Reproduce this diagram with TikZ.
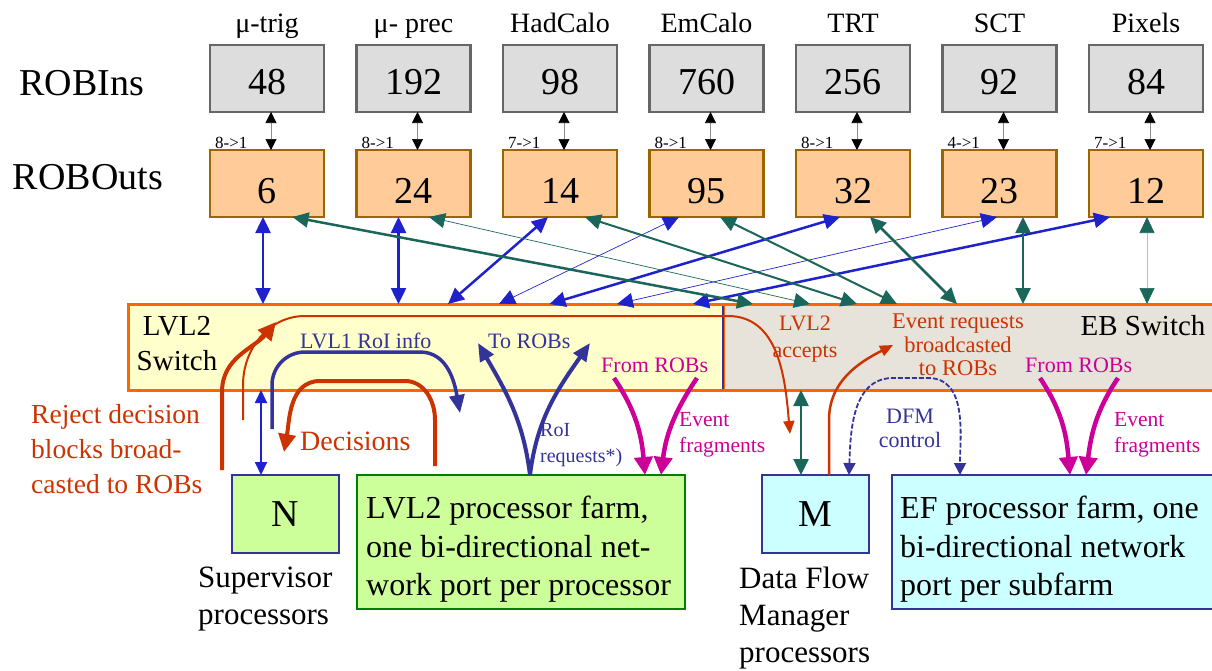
\documentclass[tikz,border=0pt]{standalone}
\usepackage{fontspec}
\setmainfont{Liberation Serif}
\usepackage{tikz}
\usetikzlibrary{arrows.meta,positioning}
\definecolor{robingray}{HTML}{DDDDDD}
\definecolor{robinedge}{HTML}{666666}
\definecolor{robfill}{HTML}{FFCC99}
\definecolor{robedge}{HTML}{996600}
\definecolor{swedge}{HTML}{FF6600}
\definecolor{lvlfill}{HTML}{FFFFCC}
\definecolor{ebfill}{HTML}{E7E3DA}
\definecolor{netblue}{HTML}{1F22CC}
\definecolor{ebgreen}{HTML}{1A665A}
\definecolor{ctlblue}{HTML}{333399}
\definecolor{decred}{HTML}{CC3300}
\definecolor{fragpink}{HTML}{CC0099}
\definecolor{farmgreen}{HTML}{CCFF99}
\definecolor{farmcyan}{HTML}{CCFFFF}
\definecolor{farmedge}{HTML}{008000}

\begin{document}
\begin{tikzpicture}[
        x=1pt, y=1pt,
        robin/.style={rectangle, draw=robinedge, fill=robingray, line width=2.5pt, outer sep=0pt, inner sep=0pt, minimum width=114pt, minimum height=67pt, text height=32pt, text depth=0pt, font=\fontsize{38}{40}\selectfont},
        robout/.style={robin, draw=robedge, fill=robfill, text height=40pt},
        det/.style={inner sep=0pt, font=\fontsize{28}{30}\selectfont},
        rowlab/.style={inner sep=0pt, font=\fontsize{38}{40}\selectfont},
        ratio/.style={inner sep=0pt, anchor=base west, font=\fontsize{17}{18}\selectfont},
        link/.style={draw=black!45, line width=0.6pt, >={Triangle[length=11pt,width=11pt,color=black]}, <->},
        netlink/.style={draw=netblue, line width=2.5pt, >={Triangle[length=16pt,width=15pt]}, <->},
        netthin/.style={netlink, line width=0.7pt},
        eblink/.style={draw=ebgreen, line width=2.5pt, >={Triangle[length=16pt,width=15pt]}, <->},
        ebthin/.style={eblink, line width=0.7pt},
        swbox/.style={rectangle, draw=swedge, fill=lvlfill, line width=3pt, outer sep=0pt, inner sep=0pt, minimum height=86pt},
        swlab/.style={inner sep=0pt, align=center, font=\fontsize{29}{35}\selectfont},
        proc/.style={rectangle, draw=ctlblue, line width=2.5pt, outer sep=0pt, minimum width=107pt, minimum height=78pt, font=\fontsize{38}{40}\selectfont},
        farm/.style={rectangle, line width=2.5pt, outer sep=0pt, minimum height=134pt},
        farmtext/.style={inner sep=0pt, anchor=north west, align=left, font=\fontsize{32}{38.5}\selectfont},
        proclab/.style={inner sep=0pt, anchor=north west, align=left, font=\fontsize{31}{37}\selectfont},
        redlab/.style={inner sep=0pt, text=decred, align=left, font=\fontsize{22}{27}\selectfont},
        bluelab/.style={redlab, text=ctlblue},
        pinklab/.style={redlab, text=fragpink},
        decarrow/.style={draw=decred, line width=4pt, >={Triangle[length=18pt,width=17pt]}, ->},
        accarrow/.style={draw=decred, line width=2pt, >={Triangle[length=13pt,width=11pt]}, ->},
        ctlarrow/.style={draw=ctlblue, line width=3.5pt, >={Triangle[length=18pt,width=15pt]}, ->},
        dfmarrow/.style={draw=ctlblue, line width=1.8pt, dash pattern=on 5pt off 2pt, >={Triangle[length=12pt,width=12pt]}, <->},
        fragarrow/.style={draw=fragpink, line width=4.5pt, >={Triangle[length=18pt,width=18pt]}, ->}
    ]
        \useasboundingbox (0,0) rectangle (1212,-670);

        \node[robin] (ri1) at (267,-78.5) {48};
        \node[robin, right=32.5pt of ri1] (ri2) {192};
        \node[robin, right=32.5pt of ri2] (ri3) {98};
        \node[robin, right=32.5pt of ri3] (ri4) {760};
        \node[robin, right=32.5pt of ri4] (ri5) {256};
        \node[robin, right=32.5pt of ri5] (ri6) {92};
        \node[robin, right=32.5pt of ri6] (ri7) {84};

        \node[robout, below=38pt of ri1] (ro1) {6};
        \node[robout, below=38pt of ri2] (ro2) {24};
        \node[robout, below=38pt of ri3] (ro3) {14};
        \node[robout, below=38pt of ri4] (ro4) {95};
        \node[robout, below=38pt of ri5] (ro5) {32};
        \node[robout, below=38pt of ri6] (ro6) {23};
        \node[robout, below=38pt of ri7] (ro7) {12};

        \node[det, above=13pt of ri1.north, anchor=base] (d1) {μ-trig};
        \node[det, above=13pt of ri2.north, anchor=base] (d2) {μ- prec};
        \node[det, above=13pt of ri3.north, anchor=base] (d3) {HadCalo};
        \node[det, above=13pt of ri4.north, anchor=base] (d4) {EmCalo};
        \node[det, above=13pt of ri5.north, anchor=base] (d5) {TRT};
        \node[det, above=13pt of ri6.north, anchor=base] (d6) {SCT};
        \node[det, above=13pt of ri7.north, anchor=base] (d7) {Pixels};

        \node[rowlab, left=66pt of ri1, yshift=-4.5pt] (robinlab) {ROBIns};
        \node[rowlab, left=47pt of ro1, yshift=6pt] (roboutlab) {ROBOuts};

        \foreach \i/\rat in {1/8,2/8,3/7,4/8,5/8,6/4,7/7} {
            \draw[link] ([xshift=4pt]ri\i.south) -- ([xshift=4pt]ro\i.north);
            \node[ratio] (rt\i) at ([xshift=5pt,yshift=2pt]ro\i.north west) {\rat->1};
        }

        \node[swbox, minimum width=595pt] (l2sw) at (425.5,-347) {};
        \node[swbox, fill=ebfill, minimum width=500pt, right=0pt of l2sw] (ebsw) {};
        \draw[ctlblue, line width=2pt] ([yshift=-1.5pt]l2sw.north east) -- ([yshift=1.5pt]l2sw.south east);
        \node[swlab, anchor=north] (l2swlab) at (177,-316) {LVL2\\Switch};
        \node[swlab, anchor=base] (ebswlab) at (1143,-335) {EB Switch};

        \node[proc, fill=farmgreen] (n) at (285.5,-514) {N};
        \node[farm, draw=farmedge, fill=farmgreen, minimum width=328pt] (l2farm) at (521,-542) {};
        \node[farmtext] (l2farmtxt) at ([xshift=9pt,yshift=-21pt]l2farm.north west) {LVL2 processor farm,\\one bi-directional net-\\work port per processor};
        \node[proc, fill=farmcyan] (m) at (815.5,-514) {M};
        \node[farm, draw=ctlblue, fill=farmcyan, minimum width=324pt] (ef) at (1054,-542) {};
        \node[farmtext] (eftxt) at ([xshift=8pt,yshift=-21pt]ef.north west) {EF processor farm, one\\bi-directional network\\port per subfarm};
        \node[proclab] (nlab) at ([xshift=-34pt,yshift=-14pt]n.south west) {Supervisor\\processors};
        \node[proclab] (mlab) at ([xshift=-23pt,yshift=-14pt]m.south west) {Data Flow\\Manager\\processors};

        \node[redlab, anchor=north west, font=\fontsize{27.5}{35}\selectfont] (rejlab) at (31,-404) {Reject decision\\blocks broad-\\casted to ROBs};
        \node[redlab, anchor=base west, font=\fontsize{28}{30}\selectfont] (declab) at (300,-450) {Decisions};
        \node[bluelab, anchor=base west] (l1lab) at (300,-348) {LVL1 RoI info};
        \node[bluelab, anchor=base west] (toroblab) at (488,-348) {To ROBs};
        \node[bluelab, anchor=north west, font=\fontsize{20}{26}\selectfont] (reqlab) at (540,-423) {RoI\\requests*)};
        \node[pinklab, anchor=base west] (fromlab1) at (601,-372) {From ROBs};
        \node[pinklab, anchor=north west, font=\fontsize{21.5}{26.5}\selectfont] (fraglab1) at (679,-412) {Event\\fragments};
        \node[redlab, anchor=north, align=center] (acclab) at (805,-316) {LVL2\\accepts};
        \node[redlab, anchor=north, align=center, font=\fontsize{22.5}{23.5}\selectfont] (evreqlab) at (958,-314) {Event requests\\broadcasted\\to ROBs};
        \node[bluelab, anchor=north, align=center, font=\fontsize{22}{24}\selectfont] (dfmlab) at (910,-409) {DFM\\control};
        \node[pinklab, anchor=base west] (fromlab2) at (1025,-372) {From ROBs};
        \node[pinklab, anchor=north west, font=\fontsize{21.5}{26.5}\selectfont] (fraglab2) at (1114,-412) {Event\\fragments};

        \draw[netlink] ([xshift=-4pt]ro1.south) -- ([xshift=-162.5pt]l2sw.north);
        \draw[netlink] ([xshift=-15pt]ro2.south) -- ([xshift=-27pt]l2sw.north);
        \draw[netlink] ([xshift=-12pt]ro3.south) -- ([xshift=22.5pt]l2sw.north);
        \draw[netthin] ([xshift=-27.5pt]ro4.south) -- ([xshift=73.5pt]l2sw.north);
        \draw[netlink] ([xshift=-13pt]ro5.south) -- ([xshift=124pt]l2sw.north);
        \draw[netthin] ([xshift=-2.5pt]ro6.south) -- ([xshift=191.5pt]l2sw.north);
        \draw[netlink] ([xshift=-36pt]ro7.south) -- ([xshift=267.5pt]l2sw.north);

        \draw[eblink] ([xshift=25.5pt]ro1.south) -- ([xshift=-220pt]ebsw.north);
        \draw[ebthin] ([xshift=15.5pt]ro2.south) -- ([xshift=-163pt]ebsw.north);
        \draw[eblink, line width=2pt] ([xshift=25pt]ro3.south) -- ([xshift=-116pt]ebsw.north);
        \draw[eblink, line width=2pt] ([xshift=13.5pt]ro4.south) -- ([xshift=-76pt]ebsw.north);
        \draw[eblink] ([xshift=17pt]ro5.south) -- ([xshift=-16pt]ebsw.north);
        \draw[eblink] ([xshift=23.5pt]ro6.south) -- ([xshift=50pt]ebsw.north);
        \draw[ebthin, draw=black!25, >={Triangle[length=16pt,width=15pt,color=ebgreen]}] ([xshift=1pt]ro7.south) -- ([xshift=174pt]ebsw.north);

        \draw[netlink, line width=1.8pt, >={Triangle[length=13pt,width=12pt]}] ([xshift=-24.5pt]n.north) -- ([xshift=-164.5pt]l2sw.south);
        \draw[eblink] ([xshift=-14.5pt]m.north) -- ([xshift=-172pt]ebsw.south);

        \coordinate (rejS) at (222,-470);
        \coordinate (rejE) at (276,-322);
        \coordinate (accS) at (243,-420);
        \coordinate (accE) at (790,-434);
        \coordinate (decS) at (435,-466);
        \coordinate (decE) at (284,-452);
        \coordinate (l1S) at (272,-429);
        \coordinate (l1E) at (460,-413);
        \coordinate (tobL) at (478,-343);
        \coordinate (tobR) at (590,-343);
        \coordinate (frL1) at (614,-378);
        \coordinate (frR1) at (697,-378);
        \coordinate (frL2) at (1040,-378);
        \coordinate (frR2) at (1118,-378);
        \coordinate (erE) at (893,-345);

        \draw[decarrow] (rejS) -- ++(0,78) to[out=90,in=-130] (rejE);
        \draw[accarrow] (accS) -- ++(0,35) to[out=90,in=180] ++(62,69) -- (728,-316) to[out=0,in=95] (accE);
        \draw[decarrow] (decS) -- ++(0,46) to[out=90,in=0] ++(-30,39) -- (320,-381) to[out=180,in=80] (decE);
        \draw[ctlarrow] (l1S) -- ++(0,44) to[out=90,in=180] ++(33,33) -- (420,-352) to[out=0,in=100] (l1E);
        \draw[ctlarrow, line width=4pt] ([xshift=9pt]l2farm.north) to[out=97,in=-60] (tobL);
        \draw[ctlarrow, line width=4pt] ([xshift=9pt]l2farm.north) to[out=83,in=-125] (tobR);
        \draw[fragarrow] (frL1) to[out=-56,in=95] ([xshift=124pt]l2farm.north);
        \draw[fragarrow] (frR1) to[out=-124,in=83] ([xshift=140pt]l2farm.north);
        \draw[fragarrow] (frL2) to[out=-56,in=95] ([xshift=16pt]ef.north);
        \draw[fragarrow] (frR2) to[out=-124,in=83] ([xshift=32pt]ef.north);
        \draw[accarrow, line width=2.5pt] ([xshift=13.5pt]m.north) -- ++(0,55) to[out=90,in=-153] (erE);
        \draw[dfmarrow] ([xshift=33.5pt]m.north) to[out=88,in=180] ++(44,97) -- ++(35,0) to[out=0,in=90] ([xshift=-94pt]ef.north);
    \end{tikzpicture}
\end{document}
